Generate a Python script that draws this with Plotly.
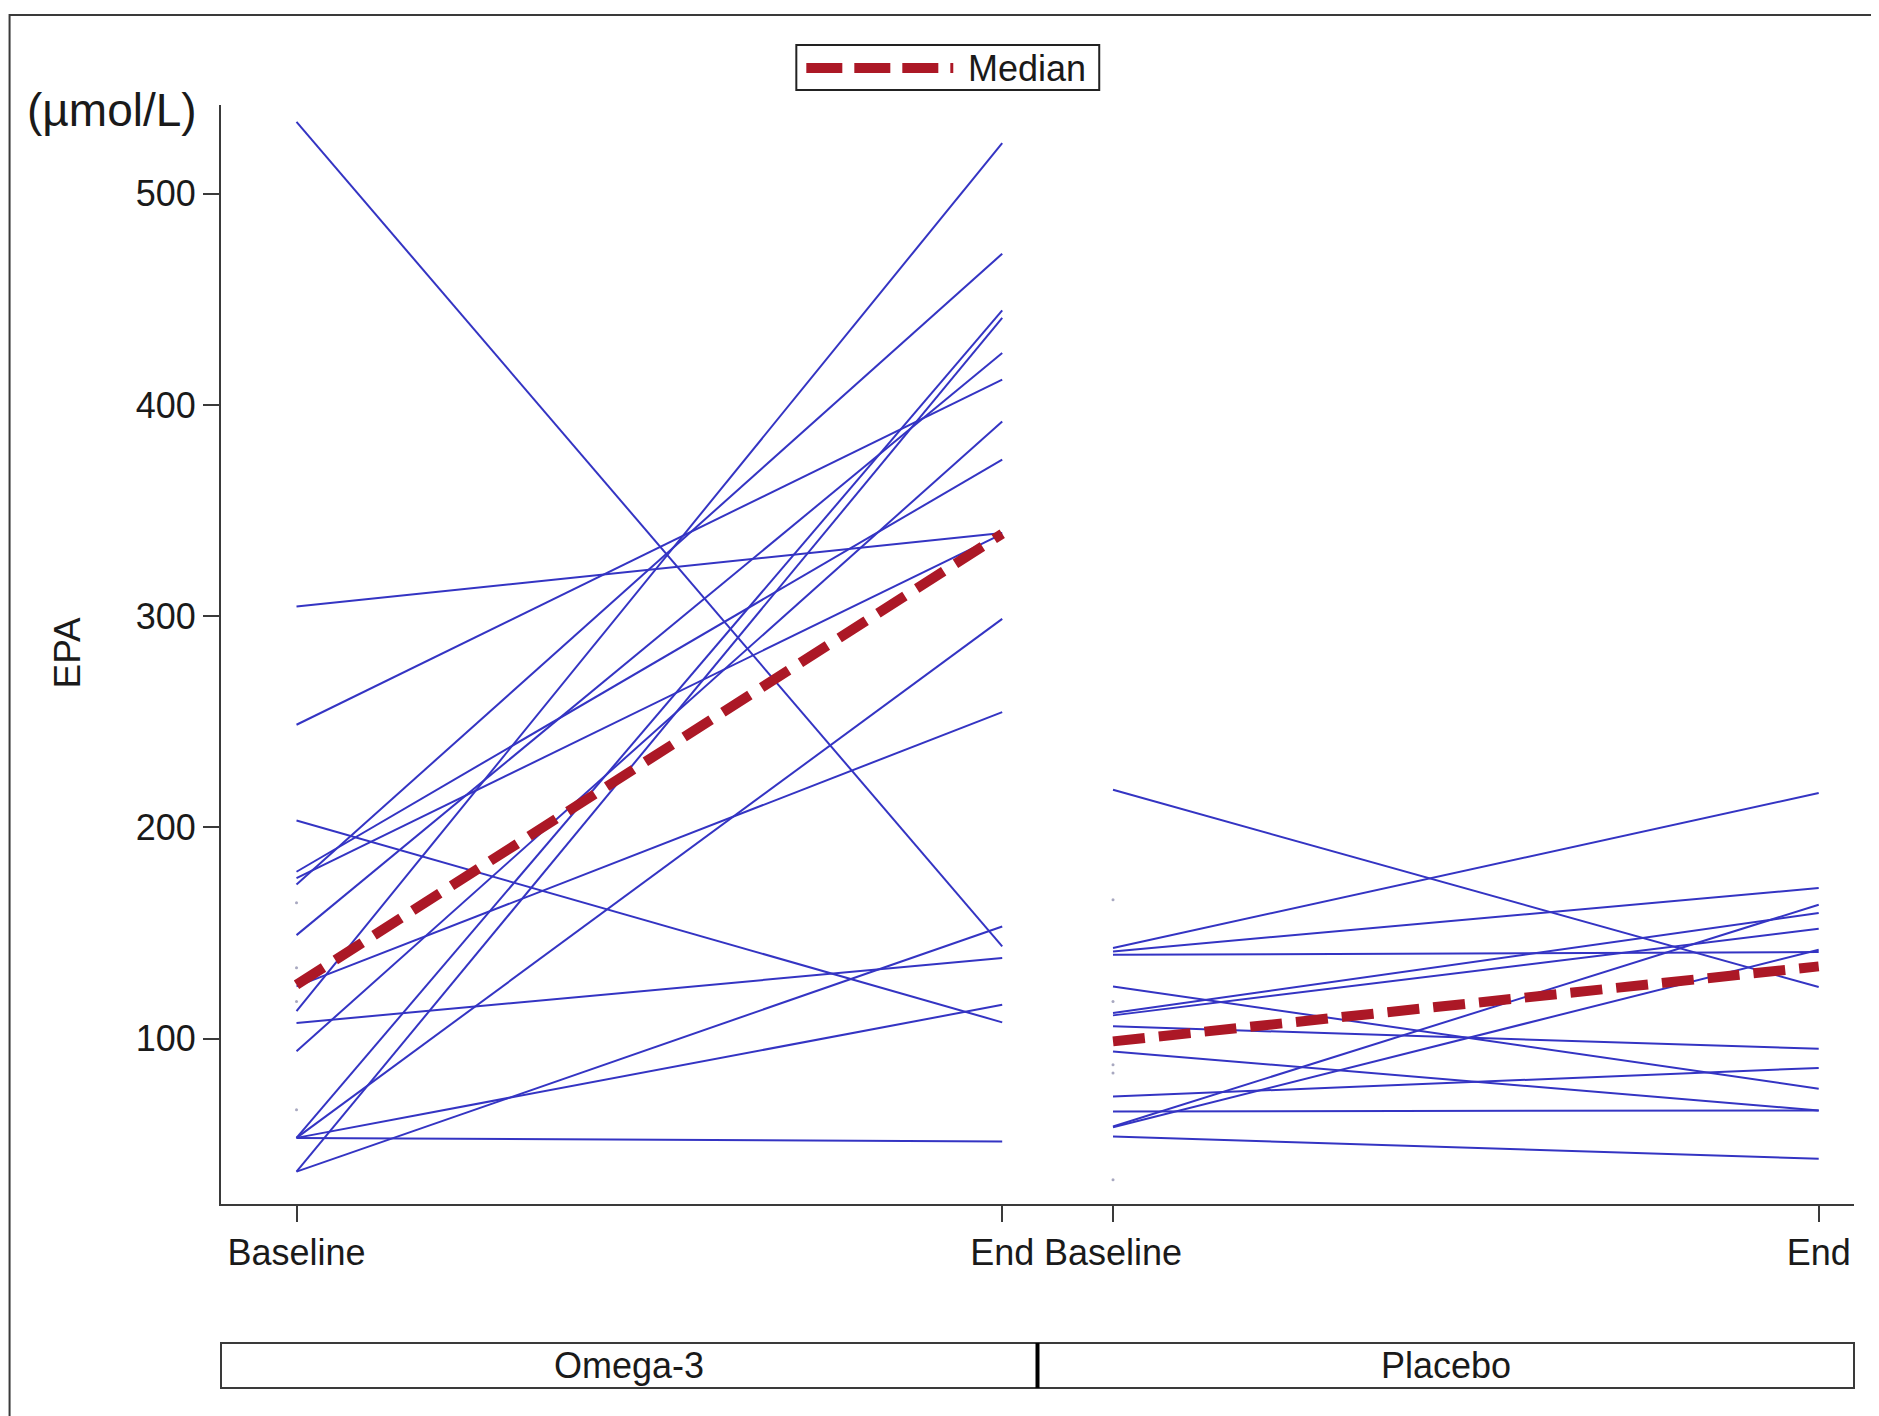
import plotly.graph_objects as go
from plotly.subplots import make_subplots

# ---------------- data ----------------
time_points = ["Baseline", "End"]
groups = ["Omega-3", "Placebo"]

omega_baseline = [534, 304.6, 248.6, 203.3, 179, 176, 173, 149, 124.7, 113, 107.4, 94, 53, 53, 53, 53, 37, 37]
omega_end = [143.7, 339.4, 412, 107.7, 374.1, 339, 471.6, 424.6, 254.6, 524, 138.2, 392.2, 51.3, 116, 298.7, 444.8, 153.1, 441.2]

placebo_baseline = [217.8, 142.9, 141.3, 139.7, 124.7, 112.1, 111.0, 105.8, 93.9, 72.6, 65.5, 58.4, 58.0, 53.7]
placebo_end = [124.4, 216.3, 171.3, 141.0, 76.3, 159.5, 152.0, 95.2, 66.0, 86.1, 66.0, 163.4, 142.1, 43.1]

# subjects with only a baseline value (tiny dots)
omega_single = [164.3, 133.6, 117.6, 66.3]
placebo_single = [165.8, 117.6, 87.6, 83.7, 33.2]

median_omega = [125.5, 339]
median_placebo = [98.7, 134.2]

y_ticks = [100, 200, 300, 400, 500]

# ---------------- style ----------------
FONT = "Liberation Sans, Arial, Helvetica, sans-serif"
BLUE = "rgb(52,52,195)"
RED = "rgb(172,24,38)"
AXIS = "#3a3a3a"
TXT = "#1a1a1a"

OFF = 8  # page body margin
PAGE_W, PAGE_H = 1879, 1416
W, H = PAGE_W - OFF, PAGE_H - OFF
# plot area in page pixels
PL, PR, PT, PB = 220.5, 1854, 105, 1204
L, R, T, B = PL - OFF, W - (PR - OFF), PT - OFF, H - (PB - OFF)
PW = W - L - R
PH = H - T - B


def px(xpage):
    return (xpage - OFF - L) / PW


def py(ypage):
    return (H - B - (ypage - OFF)) / PH


fig = make_subplots(rows=1, cols=2, shared_yaxes=True, horizontal_spacing=0)

panels = [(omega_baseline, omega_end, omega_single, median_omega, 1),
          (placebo_baseline, placebo_end, placebo_single, median_placebo, 2)]

for base, end, single, med, col in panels:
    for b, e in zip(base, end):
        fig.add_trace(go.Scatter(x=time_points, y=[b, e], mode="lines",
                                 line=dict(color=BLUE, width=2),
                                 showlegend=False, hoverinfo="y"), row=1, col=col)
    fig.add_trace(go.Scatter(x=[time_points[0]] * len(single), y=single, mode="markers",
                             marker=dict(size=3, color="rgba(110,110,150,0.6)"),
                             showlegend=False, hoverinfo="y"), row=1, col=col)
    fig.add_trace(go.Scatter(x=time_points, y=med, mode="lines", name="Median",
                             line=dict(color=RED, width=10, dash="32px,14px"),
                             showlegend=False), row=1, col=col)

xcommon = dict(type="category", categoryorder="array", categoryarray=time_points,
               range=[-0.107, 1.05], showline=True, linecolor=AXIS, linewidth=2,
               ticks="outside", ticklen=16, tickwidth=2, tickcolor=AXIS,
               tickfont=dict(family=FONT, size=36, color=TXT),
               showgrid=False, zeroline=False)
fig.update_xaxes(**xcommon)

fig.update_yaxes(range=[21.7, 542], tickvals=y_ticks, showgrid=False, zeroline=False)
fig.update_yaxes(showline=True, linecolor=AXIS, linewidth=2, ticks="outside",
                 ticklen=16, tickwidth=2, tickcolor=AXIS,
                 tickfont=dict(family=FONT, size=36, color=TXT), row=1, col=1)
fig.update_yaxes(showline=False, ticks="", showticklabels=False, row=1, col=2)

shapes = []
annotations = []

# outer frame
shapes.append(dict(type="rect", xref="paper", yref="paper",
                   x0=px(9), x1=px(1873), y0=py(1440), y1=py(15),
                   line=dict(color=AXIS, width=2), fillcolor="rgba(0,0,0,0)", layer="below"))

# group strip below the panels
strip_top, strip_bot = py(1343), py(1388)
for i, g in enumerate(groups):
    x0, x1 = i * 0.5, (i + 1) * 0.5
    shapes.append(dict(type="rect", xref="paper", yref="paper", x0=x0, x1=x1,
                       y0=strip_bot, y1=strip_top,
                       line=dict(color=AXIS, width=2), fillcolor="rgba(0,0,0,0)"))
    annotations.append(dict(text=g, xref="paper", yref="paper", x=(x0 + x1) / 2,
                            y=(strip_top + strip_bot) / 2, xanchor="center", yanchor="middle",
                            showarrow=False, font=dict(family=FONT, size=36, color=TXT)))
shapes.append(dict(type="line", xref="paper", yref="paper", x0=0.5, x1=0.5,
                   y0=strip_bot, y1=strip_top, line=dict(color="black", width=4)))

# legend box (drawn manually to match the long line sample)
shapes.append(dict(type="rect", xref="paper", yref="paper",
                   x0=px(796), x1=px(1099), y0=py(90), y1=py(45),
                   line=dict(color="#222", width=2), fillcolor="white"))
shapes.append(dict(type="line", xref="paper", yref="paper",
                   x0=px(806), x1=px(953), y0=py(68), y1=py(68),
                   line=dict(color=RED, width=10, dash="36px,12px")))
annotations.append(dict(text="Median", xref="paper", yref="paper", x=px(966), y=py(68),
                        xanchor="left", yanchor="middle", showarrow=False,
                        font=dict(family=FONT, size=36, color=TXT)))

# y-axis title and unit
annotations.append(dict(text="EPA", xref="paper", yref="paper", x=px(66), y=py(653),
                        xanchor="center", yanchor="middle", textangle=-90, showarrow=False,
                        font=dict(family=FONT, size=37, color=TXT)))
annotations.append(dict(text="(µmol/L)", xref="paper", yref="paper", x=px(24), y=py(110),
                        xanchor="left", yanchor="middle", showarrow=False,
                        font=dict(family=FONT, size=46, color=TXT)))

fig.update_layout(width=W, height=H, margin=dict(l=L, r=R, t=T, b=B, autoexpand=False),
                  paper_bgcolor="white", plot_bgcolor="white", showlegend=False,
                  shapes=shapes, annotations=annotations,
                  font=dict(family=FONT, color=TXT))

fig.write_html("out.html")
